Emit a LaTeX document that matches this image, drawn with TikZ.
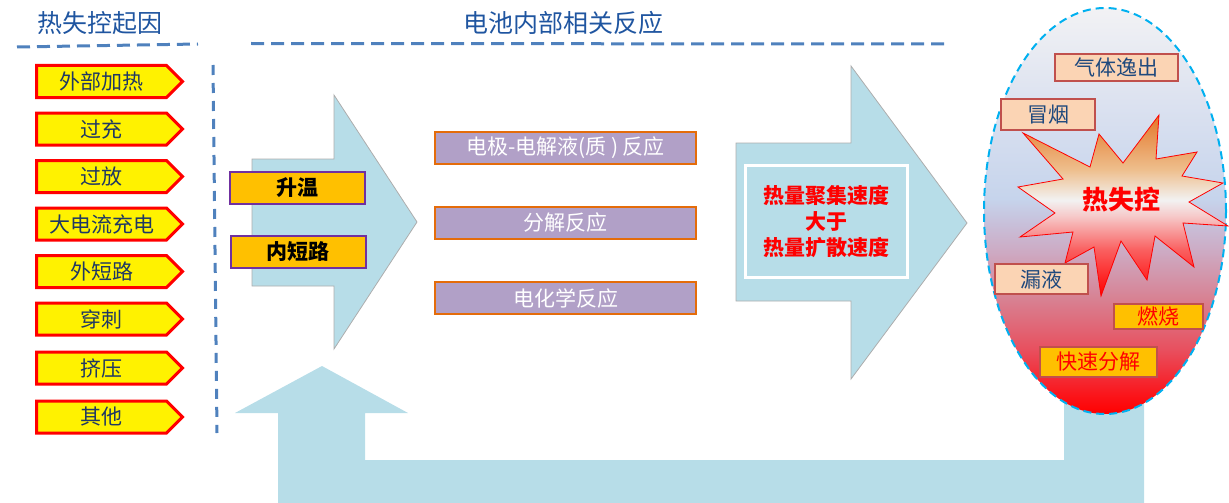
\documentclass[tikz,border=0pt]{standalone}
\usepackage{fontspec}
\setmainfont{Noto Sans CJK SC}
\usetikzlibrary{positioning,shapes.geometric,shapes.symbols}

\definecolor{skyarrow}{RGB}{183,221,232}
\definecolor{titleblue}{RGB}{31,85,160}
\definecolor{dashblue}{RGB}{79,129,189}
\definecolor{navytext}{RGB}{31,56,100}
\definecolor{signblue}{RGB}{31,73,125}
\definecolor{amber}{RGB}{255,192,0}
\definecolor{lilac}{RGB}{177,160,199}
\definecolor{rust}{RGB}{228,108,10}
\definecolor{peach}{RGB}{251,212,180}
\definecolor{brick}{RGB}{192,80,77}
\definecolor{plum}{RGB}{112,48,160}
\definecolor{cyanline}{RGB}{0,176,240}

\definecolor{eggA}{RGB}{255,0,0}
\definecolor{eggB}{RGB}{250,22,28}
\definecolor{eggC}{RGB}{232,80,95}
\definecolor{eggD}{RGB}{216,128,145}
\definecolor{eggE}{RGB}{205,170,195}
\definecolor{eggF}{RGB}{200,192,218}
\definecolor{eggG}{RGB}{198,212,236}
\definecolor{eggH}{RGB}{220,226,240}
\definecolor{eggI}{RGB}{242,242,244}
\pgfdeclareverticalshading{eggshade}{100bp}{color(0bp)=(eggA); color(25bp)=(eggA);
  color(27.5bp)=(eggB); color(33bp)=(eggC); color(39bp)=(eggD); color(45bp)=(eggE);
  color(48.5bp)=(eggF); color(51.5bp)=(eggG); color(63.5bp)=(eggH); color(75bp)=(eggI);
  color(100bp)=(eggI)}

\definecolor{burstA}{RGB}{255,0,0}
\definecolor{burstB}{RGB}{250,95,95}
\definecolor{burstC}{RGB}{246,200,200}
\definecolor{burstD}{RGB}{242,242,242}
\definecolor{burstE}{RGB}{238,190,140}
\definecolor{burstF}{RGB}{228,118,40}
\pgfdeclareverticalshading{burstshade}{100bp}{color(0bp)=(burstA); color(25bp)=(burstA);
  color(37.7bp)=(burstB); color(47bp)=(burstC); color(51.5bp)=(burstD);
  color(60bp)=(burstE); color(75bp)=(burstF); color(100bp)=(burstF)}

\begin{document}
\begin{tikzpicture}[x=1pt, y=-1pt,
    node distance=12.5pt,
    every node/.style={font=\fontsize{21pt}{26pt}\selectfont, inner sep=0pt},
    cause/.style={signal, signal to=east, signal pointer angle=90, draw=red, line width=3pt, fill=yellow, text=navytext, minimum width=146pt, minimum height=32pt},
    trigger/.style={draw=plum, line width=2pt, fill=amber, minimum width=135pt, minimum height=32pt, font=\fontsize{21pt}{26pt}\selectfont\bfseries},
    reaction/.style={draw=rust, line width=2pt, fill=lilac, text=white, minimum width=261pt, minimum height=32pt},
    symptom/.style={draw=brick, line width=2pt, fill=peach, text=signblue},
    hazard/.style={draw=brick, line width=2pt, fill=amber, text=red},
    heading/.style={text=titleblue, font=\fontsize{25pt}{30pt}\selectfont},
    sepline/.style={dashblue, line width=3pt, dash pattern=on 13pt off 7pt},
    blockarrow/.style={fill=skyarrow, draw=black!32, line width=0.8pt},
    bubble/.style={ellipse, draw=cyanline, line width=2pt, dash pattern=on 8pt off 5pt, shade, shading=eggshade, minimum width=242pt, minimum height=406pt}
]
\useasboundingbox (0,0) rectangle (1229,503);

\node[heading] (causetitle) at (100,23) {热失控起因};
\node[heading] (reacttitle) at (563,23) {电池内部相关反应};
\draw[sepline] (17,47) -- (198,44);
\draw[sepline] (251,43.5) -- (950,44);
\draw[sepline, dash pattern=on 10pt off 8pt] (213,65) -- (217,433);

\node[cause] (heat) at (101.5,81.5) {外部加热};
\node[cause, below=of heat] (overchg) {过充};
\node[cause, below=of overchg] (overdis) {过放};
\node[cause, below=of overdis] (highcur) {大电流充电};
\node[cause, below=of highcur] (extshort) {外短路};
\node[cause, below=of extshort] (nail) {穿刺};
\node[cause, below=14pt of nail] (crush) {挤压};
\node[cause, below=14pt of crush] (other) {其他};

\fill[skyarrow] (1144,503) -- (1144,395) -- (1064,395) -- (1064,460) -- (365,460) -- (365,413)
  -- (408,413) -- (322,366) -- (235,413) -- (278,413) -- (278,503) -- cycle;
\draw[blockarrow] (252,159) -- (334,159) -- (334,95) -- (417,222) -- (334,349) -- (334,286) -- (252,286) -- cycle;
\draw[blockarrow] (736,143) -- (851,143) -- (851,66) -- (967,223) -- (851,379) -- (851,301) -- (736,301) -- cycle;

\node[trigger] (warm) at (297.5,187.5) {升温};
\node[trigger] (intshort) at (298,251.5) {内短路};

\node[reaction] (electrode) at (565.5,148) {电极-电解液(质 ) 反应};
\node[reaction] (decomp) at (565.5,222.5) {分解反应};
\node[reaction] (electro) at (565.5,298) {电化学反应};

\node[draw=white, line width=2.5pt, fill=skyarrow, minimum width=162pt, minimum height=112pt, align=center, text=red,
  font=\fontsize{21pt}{26pt}\selectfont\bfseries] (balance) at (826.5,221.5) {热量聚集速度\\大于\\热量扩散速度};

\node[bubble] (egg) at (1105,211) {};
\shadedraw[shading=burstshade, draw=red, line width=0.8pt] (1023,133) -- (1090,167) -- (1099,134) -- (1123,163)
  -- (1159,115) -- (1156,159) -- (1197,152) -- (1182,176) -- (1223,183) -- (1189,202) -- (1228,226)
  -- (1183,223) -- (1194,267) -- (1155,236) -- (1147,280) -- (1121,241) -- (1101,296) -- (1094,247)
  -- (1065,263) -- (1073,232) -- (1020,237) -- (1055,213) -- (1018,187) -- (1063,179) -- cycle;
\node[text=red, font=\fontsize{26pt}{30pt}\selectfont\bfseries] (runaway) at (1121,200) {热失控};

\node[symptom, minimum width=123pt, minimum height=27pt] (gas) at (1116.5,67.5) {气体逸出};
\node[symptom, minimum width=94pt, minimum height=31pt] (smoke) at (1048,114.5) {冒烟};
\node[symptom, minimum width=93pt, minimum height=30pt] (leak) at (1041.5,279) {漏液};
\node[hazard, minimum width=89pt, minimum height=25pt] (burn) at (1158.5,316.5) {燃烧};
\node[hazard, minimum width=117pt, minimum height=30pt] (rapid) at (1098.5,362) {快速分解};
\end{tikzpicture}
\end{document}
